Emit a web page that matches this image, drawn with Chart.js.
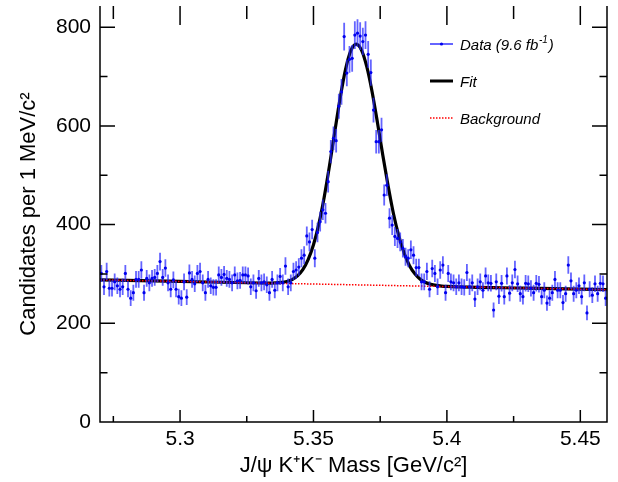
<!DOCTYPE html>
<html>
<head>
<meta charset="utf-8">
<script src="https://cdn.jsdelivr.net/npm/chart.js@4.4.1/dist/chart.umd.min.js"></script>
<style>
  html, body { margin: 0; padding: 0; background: #fff; }
  canvas { display: block; }
</style>
</head>
<body>
<canvas id="massChart" width="618" height="482"></canvas>
<script>
// histogram: 1 MeV bins starting at 5.27 GeV
const binStart = 5.27;
const binWidth = 0.001;
const counts = [
  301, 274, 305, 271, 271, 284, 276, 269, 274, 301,
  269, 251, 262, 289, 289, 308, 262, 291, 282, 291,
  293, 301, 325, 293, 312, 282, 269, 288, 269, 254,
  251, 284, 253, 302, 289, 280, 301, 305, 282, 262,
  289, 276, 273, 273, 298, 293, 299, 291, 289, 282,
  298, 286, 287, 298, 298, 296, 274, 282, 266, 291,
  282, 284, 278, 262, 289, 267, 282, 295, 282, 316,
  274, 282, 305, 308, 314, 332, 338, 377, 365, 390,
  332, 384, 406, 430, 423, 487, 548, 575, 570, 640,
  669, 781, 707, 735, 737, 784, 788, 782, 771, 784,
  745, 708, 632, 568, 568, 592, 460, 480, 413, 399,
  376, 372, 365, 352, 335, 332, 349, 338, 313, 313,
  284, 284, 305, 269, 311, 301, 274, 308, 318, 262,
  301, 284, 282, 274, 282, 274, 273, 303, 274, 282,
  249, 274, 284, 267, 296, 282, 281, 227, 284, 255,
  281, 254, 296, 261, 282, 309, 280, 260, 254, 281,
  280, 271, 262, 281, 279, 254, 267, 241, 251, 262,
  289, 267, 267, 242, 260, 318, 286, 260, 267, 276,
  254, 282, 221, 269, 257, 280, 260, 281, 280, 251
];

// fit curve
const fitMass = [5.270, 5.300, 5.330, 5.334, 5.336, 5.338, 5.340, 5.342, 5.344, 5.346,
  5.348, 5.350, 5.352, 5.354, 5.356, 5.358, 5.360, 5.362, 5.364, 5.366,
  5.368, 5.370, 5.372, 5.374, 5.376, 5.378, 5.380, 5.382, 5.384, 5.386,
  5.388, 5.390, 5.392, 5.394, 5.396, 5.398, 5.400, 5.430, 5.460];
const fitValues = [288.0, 284.9, 281.7, 281.6, 281.9, 282.8, 284.8, 288.6, 296.0, 308.6,
  328.9, 359.1, 401.1, 455.1, 519.2, 588.9, 656.7, 714.0, 752.5, 765.9,
  753.7, 719.5, 668.3, 606.1, 539.9, 477.7, 421.5, 376.7, 342.0, 316.8,
  300.2, 289.4, 282.7, 278.9, 276.7, 275.5, 274.8, 271.2, 268.1];

const bgMass = [5.27, 5.46];
const bgValues = [288.0, 268.1];

const xMajor = [5.3, 5.35, 5.4, 5.45];
const xMinor = [5.275, 5.325, 5.375, 5.425];
const yMajor = [0, 200, 400, 600, 800];
const yMinor = [100, 300, 500, 700];

const legendLabels = ["Data (9.6 fb", "Fit", "Background"];

const FONT = "'Liberation Sans', Arial, Helvetica, sans-serif";

const dataPoints = counts.map((n, i) => ({ x: binStart + (i + 0.5) * binWidth, y: n }));
const fitPoints = fitMass.map((m, i) => ({ x: m, y: fitValues[i] }));
const bgPoints = bgMass.map((m, i) => ({ x: m, y: bgValues[i] }));

function noPad(s) {
  s.paddingTop = 0; s.paddingBottom = 0; s.paddingLeft = 0; s.paddingRight = 0;
}

const framePlugin = {
  id: "frame",
  beforeDatasetDraw(chart, args) {
    if (args.index !== 0) return;
    const { ctx, chartArea, scales } = chart;
    ctx.save();
    ctx.beginPath();
    ctx.rect(chartArea.left, chartArea.top, chartArea.width, chartArea.height);
    ctx.clip();
    ctx.strokeStyle = "rgba(40,40,255,0.72)";
    ctx.lineWidth = 1.8;
    ctx.beginPath();
    counts.forEach((n, i) => {
      const px = scales.x.getPixelForValue(binStart + (i + 0.5) * binWidth);
      const e = Math.sqrt(n);
      ctx.moveTo(px, scales.y.getPixelForValue(n - e));
      ctx.lineTo(px, scales.y.getPixelForValue(n + e));
    });
    ctx.stroke();
    ctx.restore();
  },
  afterDraw(chart) {
    const { ctx, chartArea: a, scales } = chart;
    ctx.save();
    ctx.strokeStyle = "#000";
    ctx.lineWidth = 1.5;
    ctx.beginPath();
    ctx.moveTo(a.left, a.top);
    ctx.lineTo(a.left, a.bottom);
    ctx.lineTo(a.right, a.bottom);
    ctx.lineTo(a.right, a.top);
    // x ticks, bottom and top
    xMajor.concat(xMinor).forEach((v, i) => {
      const len = i < xMajor.length ? 12 : 6;
      const px = scales.x.getPixelForValue(v);
      ctx.moveTo(px, a.bottom); ctx.lineTo(px, a.bottom - len);
      ctx.moveTo(px, a.top); ctx.lineTo(px, a.top + len + 7);
    });
    // y ticks, left and right
    yMajor.concat(yMinor).forEach((v, i) => {
      const len = i < yMajor.length ? 15 : 7.5;
      const py = scales.y.getPixelForValue(v);
      ctx.moveTo(a.left, py); ctx.lineTo(a.left + len, py);
      ctx.moveTo(a.right, py); ctx.lineTo(a.right - len, py);
    });
    ctx.stroke();

    // legend
    const lx0 = 430, lx1 = 453, tx = 460;
    const rows = [44, 81, 118];
    ctx.lineWidth = 2;
    ctx.strokeStyle = "rgba(50,50,255,0.75)";
    ctx.beginPath(); ctx.moveTo(lx0, rows[0]); ctx.lineTo(lx1, rows[0]); ctx.stroke();
    ctx.fillStyle = "#0000ee";
    ctx.beginPath(); ctx.arc((lx0 + lx1) / 2, rows[0], 1.6, 0, Math.PI * 2); ctx.fill();
    ctx.strokeStyle = "#000"; ctx.lineWidth = 3;
    ctx.beginPath(); ctx.moveTo(lx0, rows[1]); ctx.lineTo(lx1, rows[1]); ctx.stroke();
    ctx.strokeStyle = "#ff0000"; ctx.lineWidth = 1.5; ctx.setLineDash([1.5, 1.5]);
    ctx.beginPath(); ctx.moveTo(lx0, rows[2]); ctx.lineTo(lx1, rows[2]); ctx.stroke();
    ctx.setLineDash([]);

    ctx.fillStyle = "#000";
    ctx.textBaseline = "alphabetic";
    ctx.textAlign = "left";
    ctx.font = "italic 15px " + FONT;
    ctx.fillText(legendLabels[0], tx, rows[0] + 5.5);
    let w = ctx.measureText(legendLabels[0]).width;
    ctx.font = "italic 10px " + FONT;
    ctx.fillText("-1", tx + w + 0.5, rows[0] - 1);
    const ws = ctx.measureText("-1").width;
    ctx.font = "italic 15px " + FONT;
    ctx.fillText(")", tx + w + ws + 1.5, rows[0] + 5.5);
    ctx.fillText(legendLabels[1], tx, rows[1] + 5.5);
    ctx.fillText(legendLabels[2], tx, rows[2] + 5.5);
    ctx.restore();
  }
};

new Chart(document.getElementById("massChart"), {
  type: "scatter",
  data: {
    datasets: [
      {
        label: "Data",
        data: dataPoints,
        pointRadius: 1.6,
        pointBackgroundColor: "#0000ee",
        pointBorderWidth: 0,
        showLine: false,
        order: 0
      },
      {
        label: "Background",
        data: bgPoints,
        showLine: true,
        borderColor: "#ff0000",
        borderWidth: 1.5,
        borderDash: [1.5, 1.5],
        pointRadius: 0,
        order: 1
      },
      {
        label: "Fit",
        data: fitPoints,
        showLine: true,
        borderColor: "#000",
        borderWidth: 3.2,
        pointRadius: 0,
        cubicInterpolationMode: "monotone",
        order: 2
      }
    ]
  },
  options: {
    responsive: false,
    animation: false,
    events: [],
    layout: { padding: { top: 6, right: 11, left: 0, bottom: 0 } },
    plugins: { legend: { display: false }, tooltip: { enabled: false } },
    scales: {
      x: {
        type: "linear",
        min: 5.27,
        max: 5.46,
        grid: { display: false, drawTicks: false },
        border: { display: false },
        afterBuildTicks: s => { s.ticks = xMajor.map(v => ({ value: v })); },
        afterFit: s => { s.height = 60; noPad(s); },
        ticks: {
          padding: 5,
          color: "#000",
          font: { family: FONT, size: 21 },
          maxRotation: 0,
          callback: v => String(v)
        },
        title: {
          display: true,
          text: "J/\u03c8 K\u207aK\u207b Mass [GeV/c\u00b2]",
          color: "#000",
          font: { family: FONT, size: 22 },
          padding: { top: 0, bottom: 3 }
        }
      },
      y: {
        type: "linear",
        min: 0,
        max: 843,
        grid: { display: false, drawTicks: false },
        border: { display: false },
        afterBuildTicks: s => { s.ticks = yMajor.map(v => ({ value: v })); },
        afterFit: s => { s.width = 100; noPad(s); },
        ticks: {
          padding: 9,
          color: "#000",
          font: { family: FONT, size: 21 },
          callback: v => String(v)
        },
        title: {
          display: true,
          text: "Candidates per 1 MeV/c\u00b2",
          color: "#000",
          font: { family: FONT, size: 22 },
          padding: { top: 16, bottom: 0 }
        }
      }
    }
  },
  plugins: [framePlugin]
});
</script>
</body>
</html>
